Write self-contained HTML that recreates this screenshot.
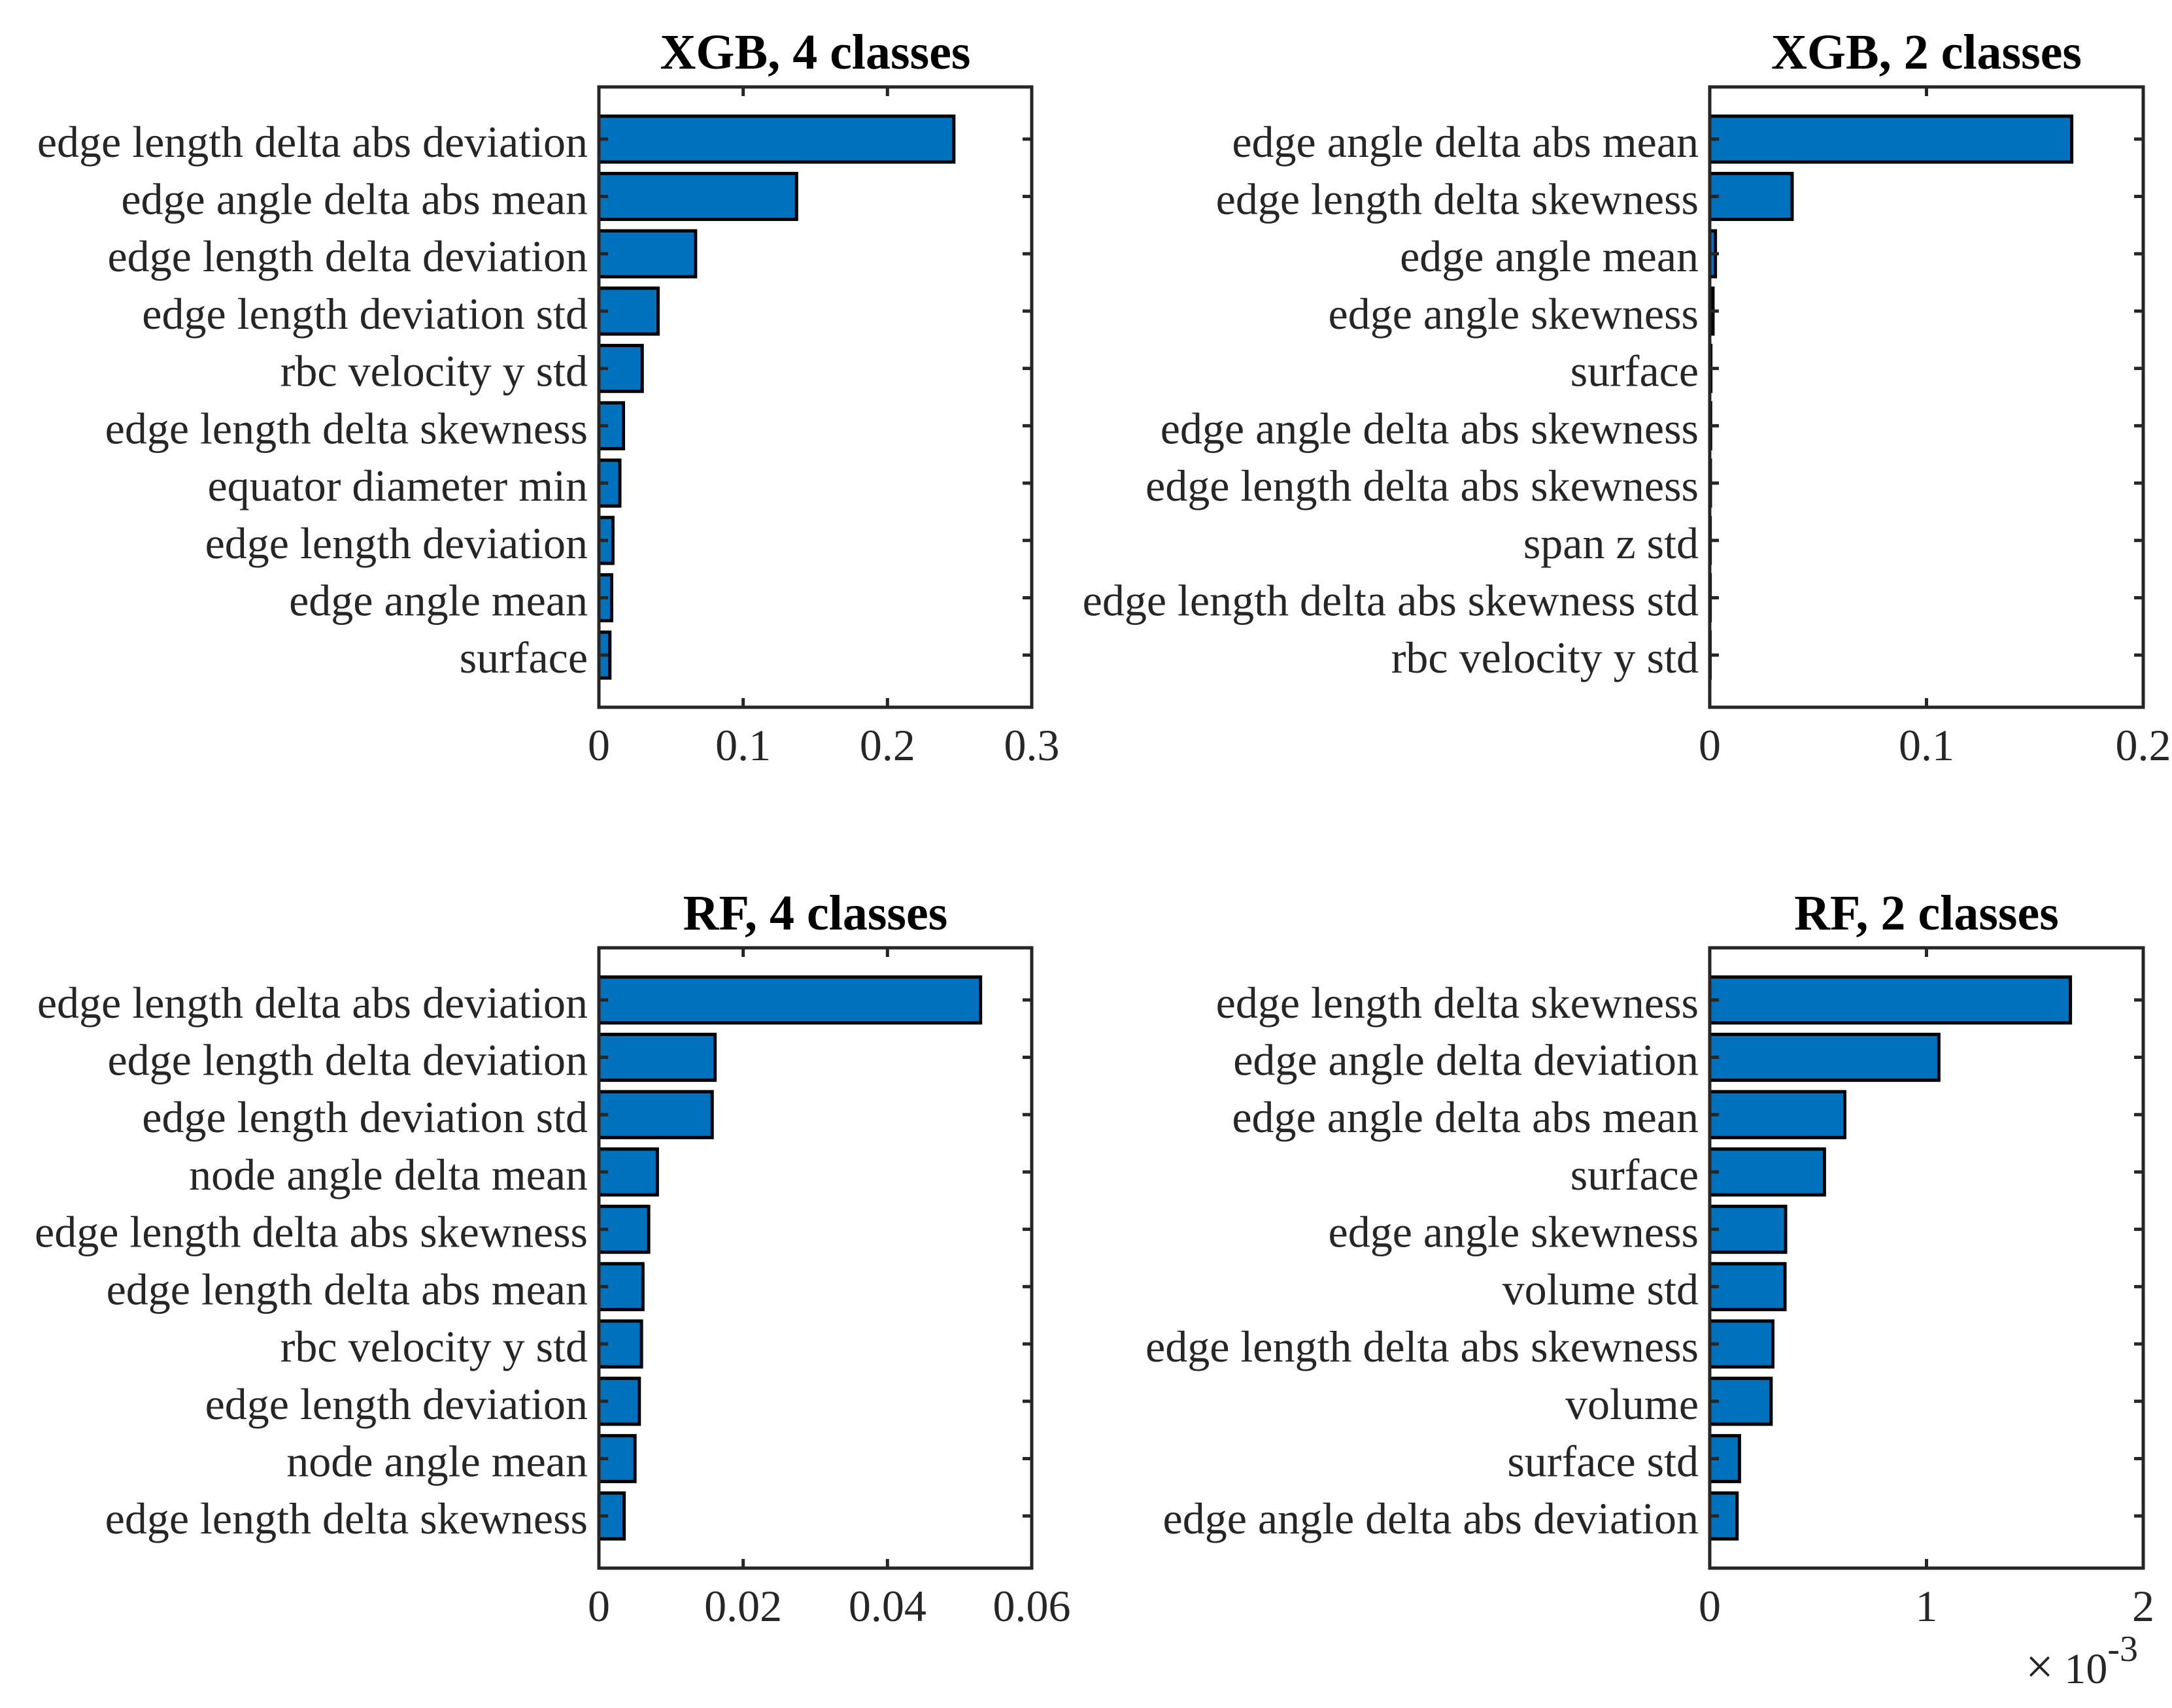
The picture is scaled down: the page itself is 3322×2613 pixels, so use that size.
<!DOCTYPE html>
<html><head><meta charset="utf-8"><style>
html,body{margin:0;padding:0;background:#fff;}
svg{display:block;font-family:"Liberation Serif",serif;}
</style></head><body>
<svg id="fig" width="3322" height="2613" viewBox="0 0 3322 2613" xmlns="http://www.w3.org/2000/svg"></svg>
<script>
// ---- data ----
const xgb4Labels = ["edge length delta abs deviation","edge angle delta abs mean","edge length delta deviation","edge length deviation std","rbc velocity y std","edge length delta skewness","equator diameter min","edge length deviation","edge angle mean","surface"];
const xgb4Values = [0.246,0.137,0.067,0.041,0.030,0.017,0.0145,0.0097,0.0088,0.0076];
const xgb4Ticks = ["0","0.1","0.2","0.3"];
const xgb2Labels = ["edge angle delta abs mean","edge length delta skewness","edge angle mean","edge angle skewness","surface","edge angle delta abs skewness","edge length delta abs skewness","span z std","edge length delta abs skewness std","rbc velocity y std"];
const xgb2Values = [0.167,0.038,0.0026,0.0015,0.0005,0.0004,0.0003,0.0002,0.0002,0.0001];
const xgb2Ticks = ["0","0.1","0.2"];
const rf4Labels = ["edge length delta abs deviation","edge length delta deviation","edge length deviation std","node angle delta mean","edge length delta abs skewness","edge length delta abs mean","rbc velocity y std","edge length deviation","node angle mean","edge length delta skewness"];
const rf4Values = [0.0529,0.0161,0.0157,0.0081,0.0069,0.0061,0.0059,0.0056,0.0050,0.0035];
const rf4Ticks = ["0","0.02","0.04","0.06"];
const rf2Labels = ["edge length delta skewness","edge angle delta deviation","edge angle delta abs mean","surface","edge angle skewness","volume std","edge length delta abs skewness","volume","surface std","edge angle delta abs deviation"];
const rf2Values = [1.664e-3,1.057e-3,0.623e-3,0.529e-3,0.350e-3,0.347e-3,0.291e-3,0.283e-3,0.137e-3,0.126e-3];
const rf2Ticks = ["0","1","2"];

const NS = "http://www.w3.org/2000/svg";
const fig = document.getElementById('fig');
function mk(tag, attrs, parent){
  const e = document.createElementNS(NS, tag);
  for (const k in attrs) e.setAttribute(k, attrs[k]);
  (parent||fig).appendChild(e);
  return e;
}
function panel(key, title, labels, values, ticks, xmax, L, T, R, B){
  const g = mk('g', {});
  
  
  const W = R - L, H = B - T;
  const xs = v => L + v / xmax * W;
  const step = H / 10.82;
  const yc = i => T + (i + 0.91) * step;
  const bh = step * 0.8;
  values.forEach((v, i) => {
    const r = mk('rect', {x: L, y: yc(i) - bh/2, width: Math.max(xs(v) - L, 0.5), height: bh, fill: '#0072BD', stroke: '#000', 'stroke-width': 5}, g);
    
    
  });
  const box = mk('rect', {x: L, y: T, width: W, height: H, fill: 'none', stroke: '#262626', 'stroke-width': 5}, g);
  
  
  labels.forEach((lab, i) => {
    const y = yc(i);
    mk('line', {x1: L, x2: L + 14, y1: y, y2: y, stroke: '#262626', 'stroke-width': 5}, g);
    mk('line', {x1: R, x2: R - 14, y1: y, y2: y, stroke: '#262626', 'stroke-width': 5}, g);
    const t = mk('text', {x: L - 17, y: y + 27, 'text-anchor': 'end', 'font-size': 68, fill: '#262626'}, g);
    t.textContent = lab;
    
    
  });
  const n = ticks.length - 1;
  ticks.forEach((tk, j) => {
    const x = L + j / n * W;
    mk('line', {x1: x, x2: x, y1: B, y2: B - 14, stroke: '#262626', 'stroke-width': 5}, g);
    mk('line', {x1: x, x2: x, y1: T, y2: T + 14, stroke: '#262626', 'stroke-width': 5}, g);
    const t = mk('text', {x: x, y: B + 81, 'text-anchor': 'middle', 'font-size': 68, fill: '#262626'}, g);
    t.textContent = tk;
    
    
  });
  const tt = mk('text', {x: (L + R)/2, y: T - 28, 'text-anchor': 'middle', 'font-size': 76, 'font-weight': 'bold', fill: '#000'}, g);
  tt.textContent = title;
  
  
}
panel('xgb-4', 'XGB, 4 classes', xgb4Labels, xgb4Values, xgb4Ticks, 0.3, 916, 133, 1578, 1082);
panel('xgb-2', 'XGB, 2 classes', xgb2Labels, xgb2Values, xgb2Ticks, 0.2, 2615, 133, 3278, 1082);
panel('rf-4', 'RF, 4 classes', rf4Labels, rf4Values, rf4Ticks, 0.06, 916, 1450, 1578, 2399);
panel('rf-2', 'RF, 2 classes', rf2Labels, rf2Values, rf2Ticks, 2e-3, 2615, 1450, 3278, 2399);
const ex = mk('text', {x: 3270, y: 2575, 'text-anchor': 'end', 'font-size': 66, fill: '#262626'});


ex.innerHTML = '<tspan font-size="76">×</tspan> 10<tspan dy="-34" font-size="56">-3</tspan>';
</script>
</body></html>
